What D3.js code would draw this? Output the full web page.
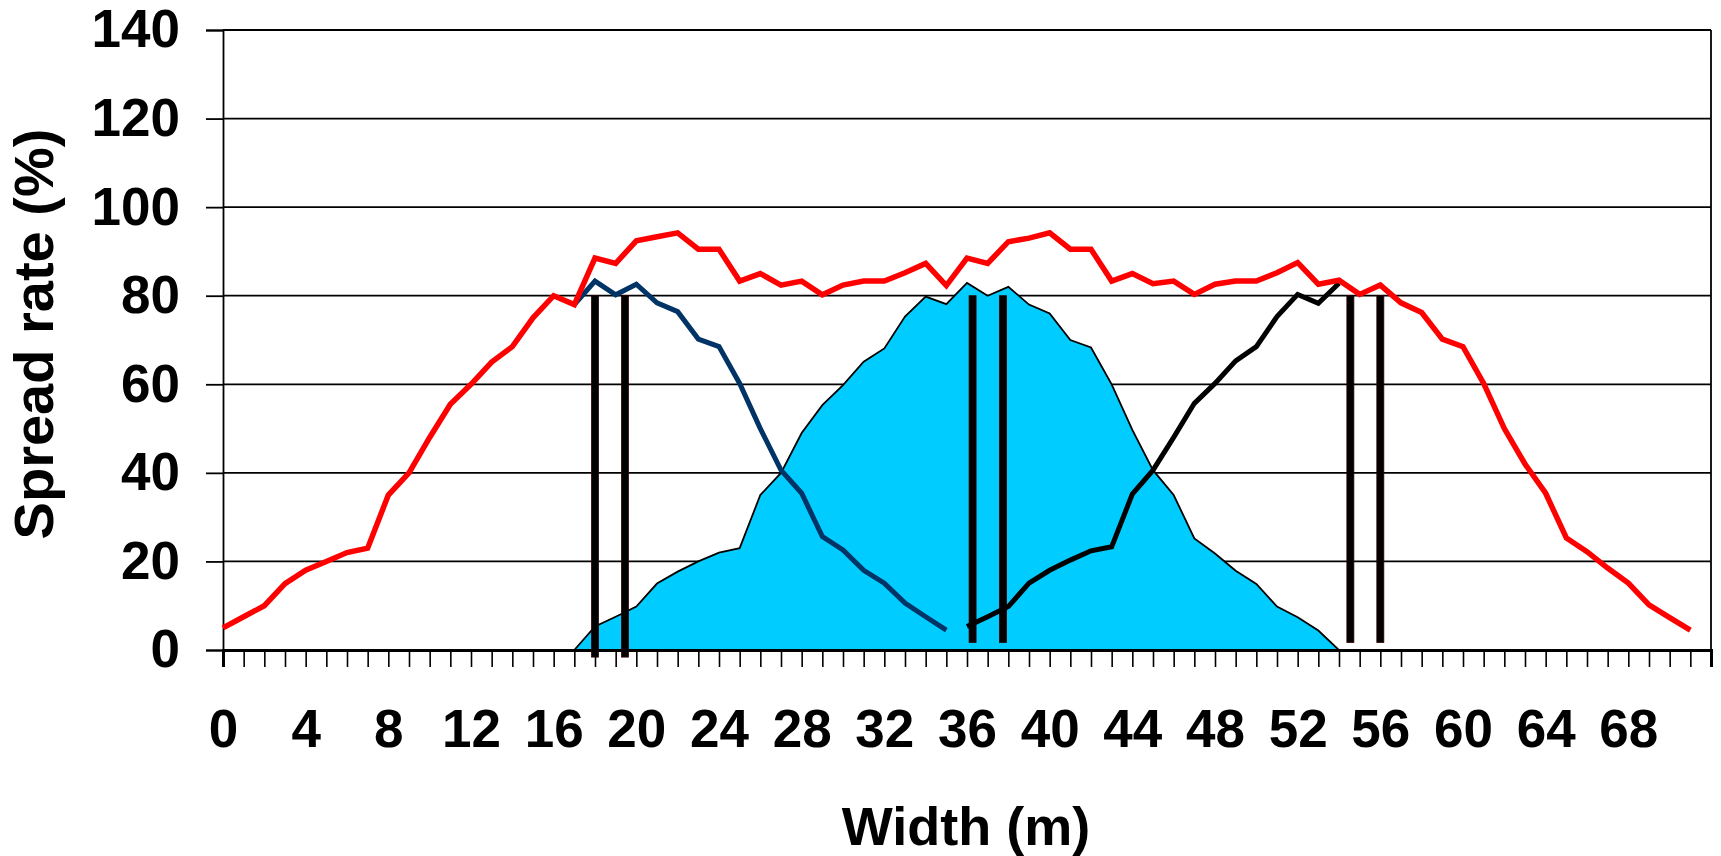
<!DOCTYPE html>
<html>
<head>
<meta charset="utf-8">
<script src="https://cdn.jsdelivr.net/npm/d3@7/dist/d3.min.js"></script>
<style>
  body { margin: 0; background: #fff; }
  #chart { width: 1721px; height: 856px; }
  text { font-family: "Liberation Sans", Arial, sans-serif; font-weight: bold; fill: #000; }
</style>
</head>
<body>
<div id="chart"></div>
<script>
// total spread (red), x = 0..71
const redX = d3.range(0, 72);
const redY = [5, 7.5, 10, 15, 18, 20, 22, 23, 35, 40, 48, 55.5, 60, 65, 68.5, 75, 80, 78,
  88.5, 87.3, 92.4, 93.3, 94.2, 90.5, 90.5, 83.3, 85, 82.4, 83.3, 80.2, 82.4, 83.3, 83.3, 85.2, 87.3, 82.3,
  88.5, 87.3, 92.2, 93, 94.2, 90.5, 90.5, 83.3, 85, 82.7, 83.3, 80.3, 82.6, 83.3, 83.3, 85.2, 87.5, 82.6,
  83.5, 80.3, 82.4, 78.4, 76.2, 70.2, 68.5, 60.2, 50, 42, 35.4, 25.3, 22.2, 18.5, 15.1, 10.2, 7.3, 4.5];

// left pass (dark blue), x = 17..35
const blueX = d3.range(17, 36);
const blueY = [78, 83.3, 80.2, 82.6, 78.4, 76.4, 70.2, 68.5, 60.2, 50, 40.6, 35.4, 25.6, 22.6, 18, 15.1, 10.6, 7.5, 4.5];

// right pass (black), x = 36..54
const blackX = d3.range(36, 55);
const blackY = [5.3, 7.5, 9.8, 15.1, 18, 20.3, 22.4, 23.3, 35.2, 40.6, 48, 55.7, 60.2, 65.3, 68.5, 75.3, 80.3, 78.3, 82.8];

// middle pass (cyan area), x = 17..54
const areaX = d3.range(17, 55);
const areaY = [0, 5.3, 7.5, 9.8, 15, 17.7, 20, 22, 23, 35, 40, 49, 55.3, 59.8, 65.1, 68.1, 75.3, 79.8, 78.1,
  82.9, 80, 82, 78, 76, 70, 68.3, 60, 49.7, 40.6, 35, 25.2, 21.8, 17.9, 14.9, 9.8, 7.4, 4.4, 0];

// vertical marker bars
const barX = [18, 19.45, 36.27, 37.74, 54.55, 56.0];
const barLow = [-1.6, -1.6, 1.7, 1.7, 1.7, 1.7];
const barHigh = [80, 80, 80, 80, 80, 80];

const yTicks = [0, 20, 40, 60, 80, 100, 120, 140];
const xTicks = d3.range(0, 73);
const xLabels = d3.range(0, 72, 4);

const width = 1721, height = 856;
const margin = { top: 30, right: 10, bottom: 206, left: 223 };

const svg = d3.select('#chart').append('svg')
  .attr('width', width)
  .attr('height', height)
  .attr('viewBox', `0 0 ${width} ${height}`);

const xScale = d3.scaleLinear().domain([0, 72]).range([margin.left, width - margin.right]);
const yScale = d3.scaleLinear().domain([0, 140]).range([height - margin.bottom, margin.top]);

const zip = (xs, ys) => xs.map((x, i) => [x, ys[i]]);

// gridlines
svg.append('g').attr('class', 'grid')
  .selectAll('line')
  .data(yTicks.filter(d => d > 0))
  .join('line')
  .attr('x1', xScale(0))
  .attr('x2', xScale(72))
  .attr('y1', d => yScale(d))
  .attr('y2', d => yScale(d))
  .attr('stroke', '#000')
  .attr('stroke-width', 1.8);

// right border of plot area
svg.append('line')
  .attr('x1', xScale(72)).attr('x2', xScale(72))
  .attr('y1', yScale(140)).attr('y2', yScale(0))
  .attr('stroke', '#000')
  .attr('stroke-width', 1.8);

// cyan area
const area = d3.area()
  .x(d => xScale(d[0]))
  .y0(yScale(0))
  .y1(d => yScale(d[1]));
svg.append('path')
  .datum(zip(areaX, areaY))
  .attr('d', area)
  .attr('fill', '#00CCFF')
  .attr('stroke', '#000')
  .attr('stroke-width', 1.8);

// axes
const yAxis = svg.append('g')
  .attr('transform', `translate(${xScale(0)},0)`)
  .call(d3.axisLeft(yScale).tickValues(yTicks).tickSize(17).tickPadding(26).tickFormat(d3.format('d')));
yAxis.select('.domain').attr('stroke-width', 1.8);
yAxis.selectAll('.tick line').attr('stroke-width', 1.8);
yAxis.selectAll('text').style('font-size', '53px');

const xAxis = svg.append('g')
  .attr('transform', `translate(0,${yScale(0)})`)
  .call(d3.axisBottom(xScale).tickValues(xTicks).tickSize(17).tickPadding(42)
    .tickFormat(d => xLabels.includes(d) ? d : ''));
xAxis.select('.domain').attr('stroke-width', 3);
xAxis.selectAll('.tick line').attr('stroke-width', 1.6);
xAxis.selectAll('text').style('font-size', '53px');

// marker bars
svg.append('g').attr('class', 'bars')
  .selectAll('rect')
  .data(barX.map((x, i) => ({ x, lo: barLow[i], hi: barHigh[i] })))
  .join('rect')
  .attr('x', d => xScale(d.x) - 3.5)
  .attr('width', 7)
  .attr('y', d => yScale(d.hi))
  .attr('height', d => yScale(d.lo) - yScale(d.hi))
  .attr('fill', '#000')
  .attr('stroke', '#330000')
  .attr('stroke-width', 0.8);

// lines
const line = d3.line()
  .x(d => xScale(d[0]))
  .y(d => yScale(d[1]));

svg.append('path')
  .datum(zip(blueX, blueY))
  .attr('d', line)
  .attr('fill', 'none')
  .attr('stroke', '#003366')
  .attr('stroke-width', 5);

svg.append('path')
  .datum(zip(blackX, blackY))
  .attr('d', line)
  .attr('fill', 'none')
  .attr('stroke', '#000')
  .attr('stroke-width', 5);

svg.append('path')
  .datum(zip(redX, redY))
  .attr('d', line)
  .attr('fill', 'none')
  .attr('stroke', '#FF0000')
  .attr('stroke-width', 5.5);

// axis titles
svg.append('text')
  .attr('x', 966)
  .attr('y', 845)
  .attr('text-anchor', 'middle')
  .style('font-size', '54px')
  .text('Width (m)');

svg.append('text')
  .attr('transform', 'translate(53,334) rotate(-90)')
  .attr('text-anchor', 'middle')
  .style('font-size', '56px')
  .text('Spread rate (%)');
</script>
</body>
</html>
